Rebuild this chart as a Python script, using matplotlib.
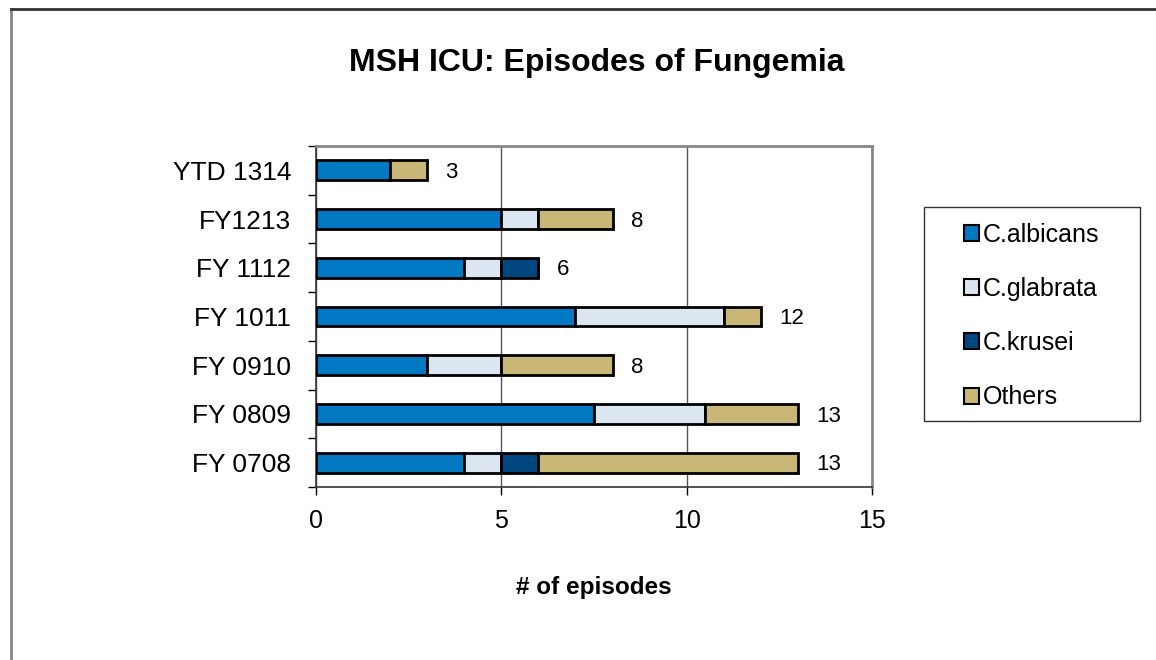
import numpy as np
import matplotlib.pyplot as plt
from matplotlib.patches import Patch, Rectangle
from matplotlib.lines import Line2D

plt.rcParams['font.family'] = ['Liberation Sans', 'DejaVu Sans']

years = ['FY 0708', 'FY 0809', 'FY 0910', 'FY 1011', 'FY 1112', 'FY1213', 'YTD 1314']
albicans = [4, 7.5, 3, 7, 4, 5, 2]
glabrata = [1, 3, 2, 4, 1, 1, 0]
krusei = [1, 0, 0, 0, 1, 0, 0]
others = [7, 2.5, 3, 1, 0, 2, 1]
totals = [13, 13, 8, 12, 6, 8, 3]

series = [('C.albicans', albicans, '#0079c2'),
          ('C.glabrata', glabrata, '#dce6f0'),
          ('C.krusei', krusei, '#00467f'),
          ('Others', others, '#c9b777')]

W, H = 1156, 660
fig = plt.figure(figsize=(W / 100, H / 100), dpi=100)
ax = fig.add_axes([316 / W, 1 - 487 / H, 556 / W, 341 / H])

y = np.arange(len(years))
left = np.zeros(len(years))
for name, vals, col in series:
    vals = np.array(vals, dtype=float)
    ax.barh(y, vals, left=left, height=0.41, color=col, edgecolor='black',
            linewidth=2, label=name, zorder=3)
    left += vals

for yi, t in zip(y, totals):
    ax.annotate(str(t), (t, yi), xytext=(13, -1.5), textcoords='offset points',
                ha='left', va='center', fontsize=16)

ax.set_xlim(0, 15)
ax.set_ylim(-0.5, len(years) - 0.5)
ax.set_xticks([0, 5, 10, 15])
ax.tick_params(axis='x', labelsize=18, length=6, width=1, pad=10, colors='black')
ax.set_yticks(y)
ax.set_yticklabels(years)
ax.set_yticks(np.arange(-0.5, len(years)), minor=True)
ax.tick_params(axis='y', which='major', length=0, labelsize=19, pad=18)
ax.tick_params(axis='y', which='minor', length=6, width=1)
ax.grid(axis='x', color='#555555', linewidth=1, zorder=0)

for s in ['top', 'right']:
    ax.spines[s].set_color('#888888')
    ax.spines[s].set_linewidth(2)
for s in ['left', 'bottom']:
    ax.spines[s].set_color('#333333')
    ax.spines[s].set_linewidth(1.2)

ax.set_xlabel('# of episodes', fontsize=17.5, fontweight='bold', labelpad=31)
fig.suptitle('MSH ICU: Episodes of Fungemia', fontsize=23, fontweight='bold',
             x=597 / W, y=1 - 63 / H, va='center')

handles = [Patch(facecolor=c, edgecolor='black', linewidth=1.5) for _, _, c in series]
fig.legend(handles, [n for n, _, _ in series], loc='center',
           bbox_to_anchor=(1032 / W, 1 - 316 / H), fontsize=18,
           frameon=False, handlelength=0.6, handleheight=0.6,
           handletextpad=0.15, labelspacing=1.21, borderpad=0.9,
           borderaxespad=0)
fig.add_artist(Rectangle((924 / W, 1 - 421 / H), 216 / W, 214 / H,
                         transform=fig.transFigure, fill=False,
                         edgecolor='#333333', linewidth=1))

fig.add_artist(Line2D([11 / W, 11 / W], [0, 1 - 9 / H],
                      color='#888888', linewidth=2))
fig.add_artist(Line2D([11 / W, 1], [1 - 9 / H, 1 - 9 / H],
                      color='#333333', linewidth=2))

fig.savefig('out.png', dpi=100)
